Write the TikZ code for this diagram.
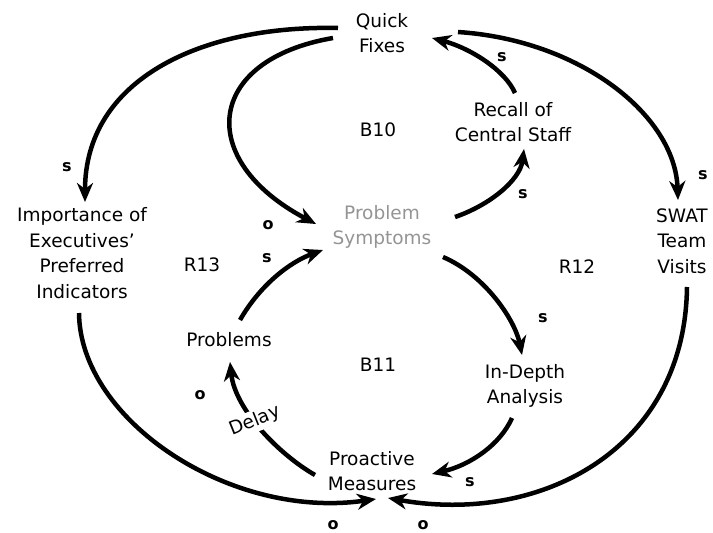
\documentclass[tikz,border=0pt]{standalone}
\usepackage{fontspec}
\setmainfont{DejaVu Sans}
\usetikzlibrary{arrows.meta}
\begin{document}
\begin{tikzpicture}[x=1pt,y=-1pt,
  lbl/.style={align=center,font=\fontsize{18.5}{25.5}\selectfont,inner sep=0pt},
  loopname/.style={font=\fontsize{18.5}{25}\selectfont,inner sep=0pt},
  pol/.style={font=\fontsize{16}{20}\selectfont\bfseries,inner sep=0pt},
  arr/.style={line width=4.5pt,-{Stealth[length=19pt,width=16pt,inset=6pt]}}]
\useasboundingbox (0,0) rectangle (713,533);
% variables
\node[lbl] (qf) at (382,33) {Quick\\Fixes};
\node[lbl] (rc) at (513,122) {Recall of\\Central Staff};
\node[lbl,text=black!42] (ps) at (382,227) {Problem\\Symptoms};
\node[lbl] (imp) at (82,253) {Importance of\\Executives’\\Preferred\\Indicators};
\node[lbl] (swat) at (682,241) {SWAT\\Team\\Visits};
\node[lbl] (pr) at (229,340) {Problems};
\node[lbl] (ida) at (525,386) {In-Depth\\Analysis};
\node[lbl] (pm) at (372,471) {Proactive\\Measures};
% loop names
\node[loopname] (b10) at (378,130) {B10};
\node[loopname] (b11) at (378,365) {B11};
\node[loopname] (r13) at (202,265) {R13};
\node[loopname] (r12) at (577,267) {R12};
% connectors
\draw[arr] ([shift={(-44,-5)}]qf.center) .. controls (200,25) and (85,80) .. ([shift={(3,-51)}]imp.center);
\draw[arr] ([shift={(-49,5)}]qf.center) .. controls (205,60) and (195,160) .. ([shift={(-66,-3)}]ps.center);
\draw[arr] ([shift={(76,-1)}]qf.center) .. controls (580,40) and (675,115) .. ([shift={(-4,-41)}]swat.center);
\draw[arr] ([shift={(2,-29)}]rc.center) .. controls (505,70) and (470,48) .. ([shift={(50,5)}]qf.center);
\draw[arr] ([shift={(73,-10)}]ps.center) .. controls (490,205) and (520,180) .. ([shift={(11,27)}]rc.center);
\draw[arr] ([shift={(61,30)}]ps.center) .. controls (485,275) and (515,320) .. ([shift={(-3,-31)}]ida.center);
\draw[arr] ([shift={(-13,32)}]ida.center) .. controls (500,445) and (470,465) .. ([shift={(60,3)}]pm.center);
\draw[arr] ([shift={(5,46)}]swat.center) .. controls (685,450) and (540,525) .. ([shift={(16,27)}]pm.center);
\draw[arr] ([shift={(-3,60)}]imp.center) .. controls (80,420) and (230,520) .. ([shift={(4,28)}]pm.center);
\draw[arr] ([shift={(-57,4)}]pm.center) .. controls (280,455) and (235,410) .. ([shift={(1,22)}]pr.center);
\draw[arr] ([shift={(11,-20)}]pr.center) .. controls (260,285) and (290,262) .. ([shift={(-59,23)}]ps.center);
% delay mark
\node[loopname,fill=white,inner sep=2pt,rotate=22] (delay) at (255,421) {Delay};
% polarities
\node[pol] (p1) at (67,167) {s};
\node[pol] (p2) at (268,225) {o};
\node[pol] (p3) at (703,175) {s};
\node[pol] (p4) at (502,57) {s};
\node[pol] (p5) at (523,194) {s};
\node[pol] (p6) at (543,318) {s};
\node[pol] (p7) at (470,482) {s};
\node[pol] (p8) at (423,525) {o};
\node[pol] (p9) at (333,525) {o};
\node[pol] (p10) at (200,395) {o};
\node[pol] (p11) at (267,258) {s};
\end{tikzpicture}
\end{document}
